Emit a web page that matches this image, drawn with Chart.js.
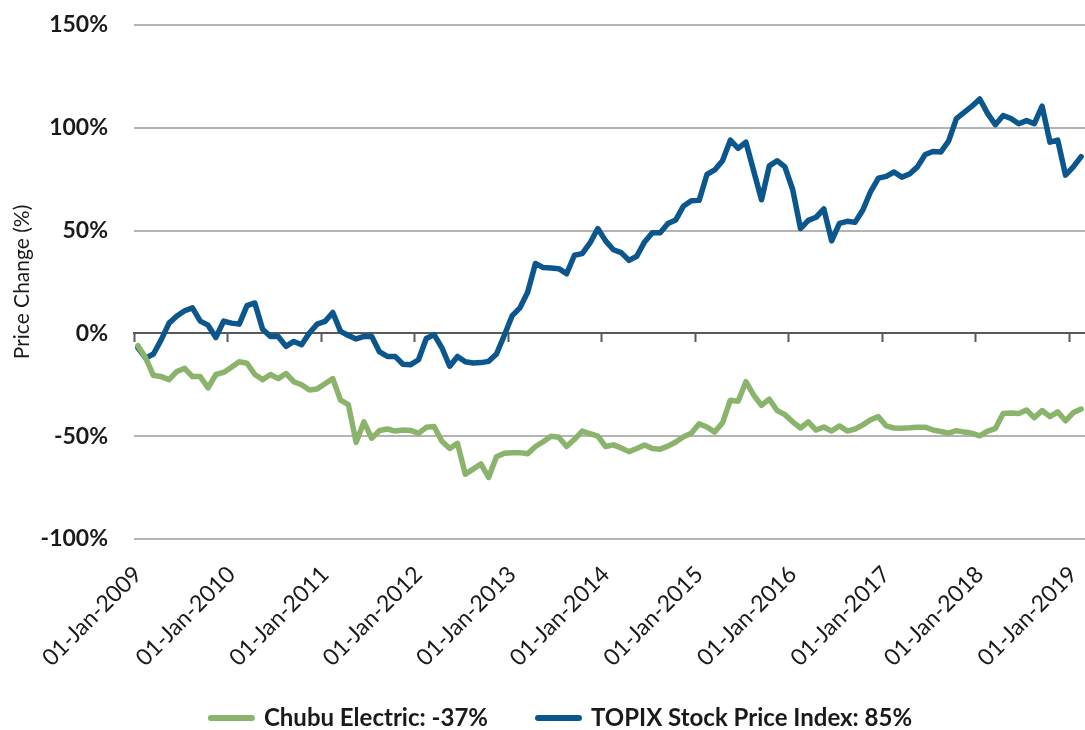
<!DOCTYPE html>
<html>
<head>
<meta charset="utf-8">
<script src="https://cdn.jsdelivr.net/npm/chart.js@4.4.0/dist/chart.umd.min.js"></script>
<style>
html,body{margin:0;padding:0;background:#ffffff;overflow:hidden;}
#wrap{width:1085px;height:730px;position:relative;}
</style>
</head>
<body>
<div id="wrap"><canvas id="c" width="1085" height="730"></canvas></div>
<script>
// ---- data ----
const years = [2009, 2010, 2011, 2012, 2013, 2014, 2015, 2016, 2017, 2018, 2019];
const monthNames = ['Jan','Feb','Mar','Apr','May','Jun','Jul','Aug','Sep','Oct','Nov','Dec'];
const monthsIn2019 = 2;
const seriesNames = ['Chubu Electric: -37%', 'TOPIX Stock Price Index: 85%'];

const chubu = [
  -6, -12, -20.5, -21, -22.5, -18.5, -17, -21, -21, -26.5, -20, -19,
  -16.5, -13.8, -14.5, -20, -22.5, -20, -22, -19.5, -23.5, -25, -27.5, -27,
  -24.5, -22, -32.5, -34.7, -53, -43, -51, -47.2, -46.5, -47.5, -47, -47.2,
  -48.6, -45.7, -45.3, -52.5, -56, -53.5, -68.5, -66, -63.5, -70, -60, -58.3,
  -58, -58, -58.5, -55, -52.7, -50, -50.5, -55, -51.5, -47.5, -48.8, -50,
  -55, -54.2, -55.7, -57.5, -56, -54.3, -56, -56.3, -54.8, -52.8, -50.3, -48.6,
  -44, -45.5, -48, -43.5, -32.5, -33, -23.5, -30, -35, -32, -37.5, -39.5,
  -43, -46, -43, -47, -45.5, -47.5, -45, -47.5, -46.5, -44.5, -42, -40.5,
  -45, -46, -46.1, -45.9, -45.6, -45.6, -47, -47.7, -48.5, -47.3, -48, -48.6,
  -49.8, -47.5, -46.3, -39, -38.7, -39, -37.3, -41, -37.5, -40.5, -38.2, -42.5,
  -38.5, -36.8
];

const topix = [
  -7, -12, -10, -3, 5, 8.5, 11, 12.4, 6, 4, -2, 6,
  5, 4.5, 13.5, 14.8, 2, -1.5, -1.5, -6.3, -3.9, -5.5, 0.2, 4.5,
  5.8, 10.2, 1, -1, -2.7, -1.5, -1.5, -9, -11.2, -11.2, -15, -15.2,
  -12.8, -2.5, -0.6, -7, -16, -11.2, -13.8, -14.4, -14.2, -13.6, -10, -1,
  8.5, 12.4, 20, 34, 32, 31.8, 31.5, 29, 38, 38.8, 44, 51,
  45, 40.7, 39.3, 35.5, 37.5, 44.5, 49, 49, 53.5, 55.2, 62, 64.5,
  64.7, 77.3, 79.5, 84, 94, 90, 93, 79, 65, 81.5, 84, 81,
  70, 51, 55, 56.5, 60.5, 45, 53.5, 54.5, 54, 60, 69, 75.5,
  76.4, 78.5, 76, 77.5, 81, 87, 88.5, 88.2, 93.5, 104.5, 107.5, 110.5,
  114, 107, 101.5, 106, 104.5, 102, 103.5, 102, 110.5, 93, 94, 77,
  81, 86
];

const yTicks = [-100, -50, 0, 50, 100, 150];

// month categories, labelled like "01-Jan-2009"
const categories = [];
years.forEach(y => {
  const n = (y === 2019) ? monthsIn2019 : 12;
  for (let m = 0; m < n; m++) categories.push('01-' + monthNames[m] + '-' + y);
});

const GREEN = '#8AB46C';
const BLUE = '#0B578D';
const TEXT = '#1a1a1a';
const FONT = 'Lato, "Open Sans", "DejaVu Sans", sans-serif';

// let the rotated date labels extend below their axis box (no clipping)
const unclipLabels = {
  id: 'unclipLabels',
  afterLayout(chart) { chart.scales.x.bottom = chart.height; }
};

const ctx = document.getElementById('c').getContext('2d');
new Chart(ctx, {
  type: 'line',
  plugins: [unclipLabels],
  data: {
    labels: categories,
    datasets: [
      { label: seriesNames[0], data: chubu, borderColor: GREEN, backgroundColor: GREEN,
        borderWidth: 5.5, pointRadius: 0, pointHoverRadius: 0, tension: 0,
        borderJoinStyle: 'round', borderCapStyle: 'round', xAxisID: 'x', yAxisID: 'y' },
      { label: seriesNames[1], data: topix, borderColor: BLUE, backgroundColor: BLUE,
        borderWidth: 5.5, pointRadius: 0, pointHoverRadius: 0, tension: 0,
        borderJoinStyle: 'round', borderCapStyle: 'round', xAxisID: 'x', yAxisID: 'y' }
    ]
  },
  options: {
    responsive: false,
    animation: false,
    events: [],
    layout: { padding: { left: 38, right: 0, top: 25, bottom: -10 }, autoPadding: false },
    plugins: {
      tooltip: { enabled: false },
      legend: {
        position: 'bottom',
        align: 'center',
        labels: {
          usePointStyle: true,
          pointStyle: 'line',
          pointStyleWidth: 41,
          padding: 50,
          color: TEXT,
          font: { family: FONT, size: 24, weight: 'bold' },
          generateLabels: (chart) => Chart.defaults.plugins.legend.labels.generateLabels(chart).map(it => {
            const ds = chart.data.datasets[it.datasetIndex];
            return Object.assign(it, { lineWidth: 6, lineCap: 'round', pointStyle: 'line',
              strokeStyle: ds.borderColor, fillStyle: ds.borderColor });
          })
        }
      }
    },
    scales: {
      x: {
        type: 'category',
        position: 'bottom',
        offset: true,
        grid: { display: false, drawTicks: false, offset: true },
        border: { display: false },
        ticks: {
          autoSkip: false, maxRotation: 45, minRotation: 45, padding: 21,
          color: TEXT, font: { family: FONT, size: 23, lineHeight: 1.3 },
          callback: function (v, i) { return i % 12 === 0 ? this.getLabelForValue(v) : ''; }
        },
        afterFit: (s) => { s.height = 117; s.paddingLeft = 0; s.paddingRight = 0; }
      },
      x2: {
        type: 'category',
        position: { y: 0 },
        offset: true,
        grid: {
          offset: true, drawOnChartArea: false, drawTicks: true, tickLength: 8, tickWidth: 2,
          tickColor: (c) => (c.index !== undefined && c.type === 'tick' && c.index % 12 === 0) ? '#595959' : 'rgba(0,0,0,0)'
        },
        border: { display: true, color: '#595959', width: 2 },
        ticks: { display: false, autoSkip: false },
        afterFit: (s) => { s.paddingLeft = 0; s.paddingRight = 0; }
      },
      y: {
        type: 'linear',
        min: yTicks[0],
        max: yTicks[yTicks.length - 1],
        afterBuildTicks: (s) => { s.ticks = yTicks.map(v => ({ value: v })); },
        ticks: {
          padding: 26, color: TEXT,
          font: { family: FONT, size: 23, weight: 'bold' },
          callback: (v) => v + '%'
        },
        grid: {
          drawTicks: false, lineWidth: 2,
          color: (c) => (c.tick && c.tick.value === 0) ? 'rgba(0,0,0,0)' : '#b4b4b4'
        },
        border: { display: false },
        title: {
          display: true, text: 'Price Change (%)', color: TEXT,
          font: { family: FONT, size: 21 }, padding: { top: -28, bottom: 0 }
        },
        afterFit: (s) => { s.width = 96; s.paddingTop = 0; s.paddingBottom = 0; }
      }
    }
  }
});
</script>
</body>
</html>
